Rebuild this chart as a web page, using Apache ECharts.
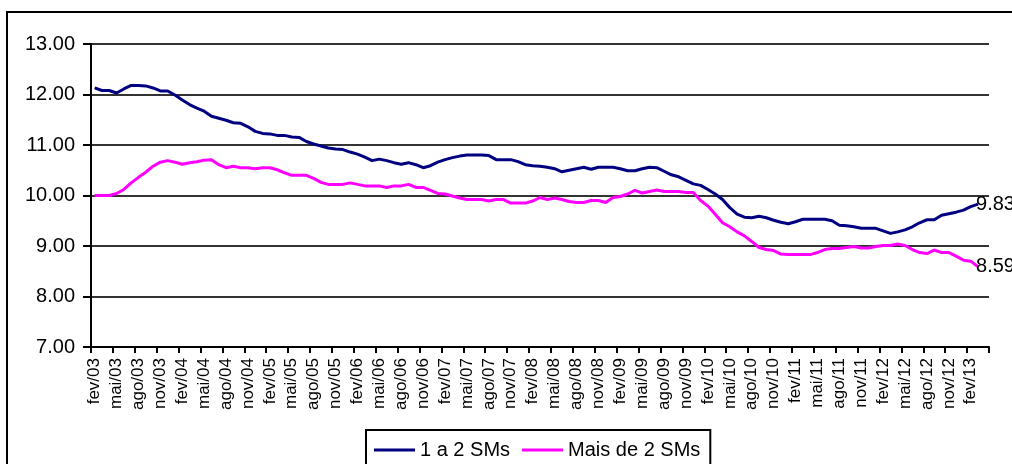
<!DOCTYPE html>
<html>
<head>
<meta charset="utf-8">
<script src="https://cdn.jsdelivr.net/npm/echarts@6/dist/echarts.min.js"></script>
<style>
  html, body { margin: 0; padding: 0; background: #fff; }
  #chart { width: 1012px; height: 464px; }
</style>
</head>
<body>
<div id="chart"></div>
<script>
// rótulos dos meses (fev/03 .. abr/13)
const mesNomes = ['jan', 'fev', 'mar', 'abr', 'mai', 'jun', 'jul', 'ago', 'set', 'out', 'nov', 'dez'];
const categorias = [];
for (let k = 0; k < 123; k++) {
    const m = (1 + k) % 12;
    const a = 3 + Math.floor((1 + k) / 12);
    categorias.push(mesNomes[m] + '/' + String(a).padStart(2, '0'));
}

// 1 a 2 SMs
const serieAte2 = [
    12.13, 12.08, 12.08, 12.03, 12.11, 12.18, 12.18, 12.17, 12.13, 12.07,
    12.07, 11.99, 11.89, 11.80, 11.73, 11.67, 11.57, 11.53, 11.49, 11.44,
    11.43, 11.36, 11.27, 11.23, 11.22, 11.19, 11.19, 11.16, 11.15, 11.07,
    11.02, 10.98, 10.94, 10.92, 10.91, 10.86, 10.82, 10.76, 10.69, 10.72,
    10.69, 10.65, 10.62, 10.65, 10.61, 10.55, 10.59, 10.66, 10.71, 10.75,
    10.78, 10.80, 10.80, 10.80, 10.79, 10.71, 10.71, 10.71, 10.67, 10.61,
    10.59, 10.58, 10.56, 10.53, 10.47, 10.50, 10.53, 10.56, 10.52, 10.56,
    10.56, 10.56, 10.53, 10.49, 10.49, 10.53, 10.56, 10.55, 10.48, 10.41,
    10.37, 10.30, 10.23, 10.20, 10.12, 10.03, 9.92, 9.76, 9.63, 9.57,
    9.56, 9.59, 9.56, 9.51, 9.47, 9.44, 9.48, 9.53, 9.53, 9.53,
    9.53, 9.50, 9.41, 9.40, 9.38, 9.35, 9.35, 9.35, 9.30, 9.25,
    9.28, 9.32, 9.38, 9.46, 9.52, 9.52, 9.61, 9.64, 9.67, 9.71,
    9.78, 9.83
];

// Mais de 2 SMs
const serieMais2 = [
    10.00, 10.00, 10.00, 10.04, 10.12, 10.25, 10.36, 10.46, 10.58, 10.66,
    10.69, 10.66, 10.62, 10.65, 10.67, 10.70, 10.71, 10.61, 10.55, 10.58,
    10.55, 10.55, 10.53, 10.55, 10.55, 10.51, 10.45, 10.40, 10.40, 10.40,
    10.34, 10.26, 10.22, 10.22, 10.22, 10.25, 10.22, 10.19, 10.19, 10.19,
    10.16, 10.19, 10.19, 10.22, 10.16, 10.16, 10.10, 10.04, 10.03, 9.99,
    9.95, 9.92, 9.92, 9.92, 9.89, 9.92, 9.92, 9.85, 9.85, 9.85,
    9.89, 9.96, 9.92, 9.95, 9.92, 9.88, 9.86, 9.86, 9.90, 9.90,
    9.86, 9.96, 9.98, 10.03, 10.10, 10.05, 10.08, 10.11, 10.08, 10.08,
    10.08, 10.06, 10.06, 9.90, 9.79, 9.63, 9.46, 9.38, 9.28, 9.20,
    9.09, 8.97, 8.93, 8.91, 8.84, 8.83, 8.83, 8.83, 8.83, 8.87,
    8.93, 8.95, 8.95, 8.97, 8.99, 8.96, 8.96, 8.99, 9.01, 9.01,
    9.04, 9.01, 8.93, 8.87, 8.85, 8.92, 8.87, 8.87, 8.80, 8.72,
    8.70, 8.59
];

const fonte = '"Liberation Sans", Arial, sans-serif';

// rótulo do último valor, à direita da linha
const rotuloFinal = {
    show: true,
    distance: -2,
    fontSize: 20,
    fontFamily: fonte,
    color: '#000',
    formatter: p => Number(p.value).toFixed(2)
};

const chart = echarts.init(document.getElementById('chart'), null, { renderer: 'canvas' });

const option = {
    animation: false,
    backgroundColor: '#fff',
    textStyle: { fontFamily: fonte, color: '#000' },
    graphic: [{
        type: 'rect',
        shape: { x: 7, y: 12, width: 1100, height: 600 },
        style: { fill: 'none', stroke: '#000', lineWidth: 2 },
        silent: true,
        z: -1
    }],
    grid: { left: 91, right: 23, top: 44, bottom: 117, containLabel: false },
    legend: {
        left: 366,
        top: 430,
        padding: [10, 10, 14, 8],
        borderColor: '#000',
        borderWidth: 2,
        borderRadius: 0,
        itemWidth: 41,
        itemHeight: 3,
        itemGap: 12,
        icon: 'rect',
        textStyle: { fontFamily: fonte, fontSize: 20, color: '#000', padding: [0, 0, 0, 0] },
        data: ['1 a 2 SMs', 'Mais de 2 SMs']
    },
    xAxis: {
        type: 'category',
        data: categorias,
        boundaryGap: true,
        axisLine: { lineStyle: { color: '#000', width: 2 } },
        axisTick: { show: true, interval: 2, length: 6, lineStyle: { color: '#000', width: 2 } },
        axisLabel: {
            interval: 2,
            rotate: 90,
            fontSize: 17,
            fontFamily: fonte,
            color: '#000',
            margin: 11
        },
        splitLine: { show: false }
    },
    yAxis: {
        type: 'value',
        min: 7,
        max: 13,
        interval: 1,
        axisLine: { show: true, lineStyle: { color: '#000', width: 2 } },
        axisTick: { show: true, length: 8, lineStyle: { color: '#000', width: 2 } },
        axisLabel: {
            fontSize: 20,
            fontFamily: fonte,
            color: '#000',
            margin: 16,
            formatter: v => v.toFixed(2)
        },
        splitLine: { show: true, lineStyle: { color: '#333', width: 2 } }
    },
    series: [
        {
            name: '1 a 2 SMs',
            type: 'line',
            data: serieAte2,
            showSymbol: false,
            symbol: 'none',
            itemStyle: { color: '#000080' },
            lineStyle: { color: '#000080', width: 3 },
            endLabel: rotuloFinal,
            z: 3
        },
        {
            name: 'Mais de 2 SMs',
            type: 'line',
            data: serieMais2,
            showSymbol: false,
            symbol: 'none',
            itemStyle: { color: '#FF00FF' },
            lineStyle: { color: '#FF00FF', width: 3 },
            endLabel: rotuloFinal,
            z: 2
        }
    ]
};

chart.setOption(option);
</script>
</body>
</html>
